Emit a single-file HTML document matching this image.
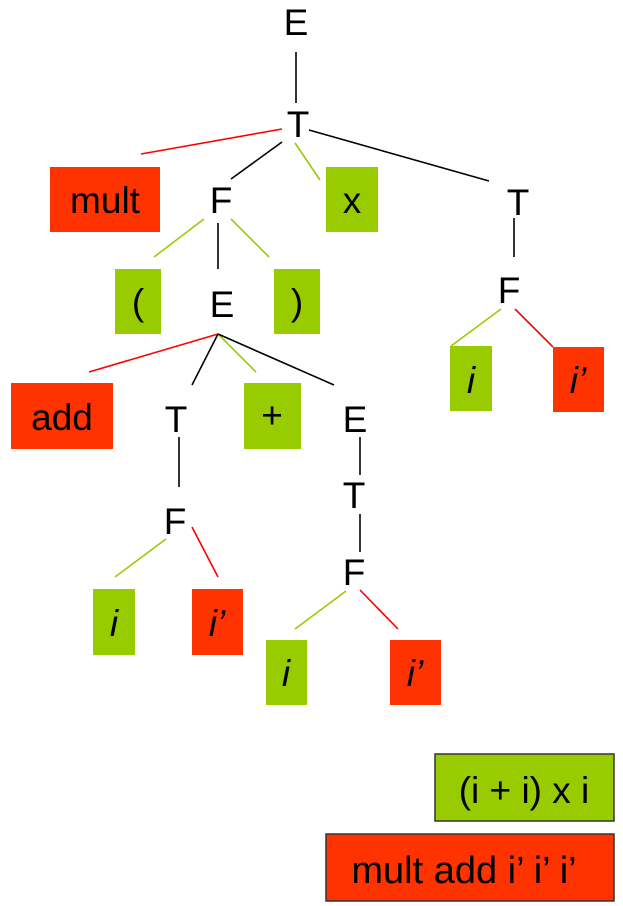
<!DOCTYPE html>
<html><head><meta charset="utf-8"><style>
html,body{margin:0;padding:0;background:#fff;}
svg{display:block;}
text{font-family:"Liberation Sans",Arial,sans-serif;fill:#000;}
</style></head><body>
<svg width="623" height="906" viewBox="0 0 623 906" xmlns="http://www.w3.org/2000/svg">
<g font-size="37" text-anchor="middle">
<!-- lines -->
<g stroke-width="1.6" fill="none">
<line x1="296" y1="52" x2="296" y2="103" stroke="#000"/>
<line x1="141" y1="154" x2="282" y2="129" stroke="#f00"/>
<line x1="282" y1="142" x2="231" y2="179" stroke="#000"/>
<line x1="295" y1="143" x2="320" y2="180" stroke="#99cc00"/>
<line x1="309" y1="130" x2="489" y2="181" stroke="#000"/>
<line x1="514" y1="218" x2="514" y2="257" stroke="#000"/>
<line x1="204" y1="219" x2="154" y2="257" stroke="#99cc00"/>
<line x1="218" y1="223" x2="218" y2="269" stroke="#000"/>
<line x1="231" y1="219" x2="269" y2="257" stroke="#99cc00"/>
<line x1="501" y1="309" x2="451" y2="346" stroke="#99cc00"/>
<line x1="515" y1="309" x2="553" y2="347" stroke="#f00"/>
<line x1="218" y1="334" x2="89" y2="372" stroke="#f00"/>
<line x1="218" y1="334" x2="192" y2="385" stroke="#000"/>
<line x1="218" y1="334" x2="256" y2="372" stroke="#99cc00"/>
<line x1="218" y1="334" x2="334" y2="385" stroke="#000"/>
<line x1="179" y1="437" x2="179" y2="487" stroke="#000"/>
<line x1="360" y1="437" x2="360" y2="475" stroke="#000"/>
<line x1="360" y1="514" x2="360" y2="552" stroke="#000"/>
<line x1="166" y1="539" x2="115" y2="577" stroke="#99cc00"/>
<line x1="192" y1="527" x2="218" y2="577" stroke="#f00"/>
<line x1="346" y1="591" x2="295" y2="629" stroke="#99cc00"/>
<line x1="360" y1="590" x2="398" y2="629" stroke="#f00"/>
</g>
<!-- boxes -->
<rect x="50" y="167" width="110" height="65" fill="#ff3300"/>
<rect x="326" y="167" width="52" height="65" fill="#99cc00"/>
<rect x="115" y="269" width="46" height="65" fill="#99cc00"/>
<rect x="274" y="269" width="46" height="65" fill="#99cc00"/>
<rect x="450" y="346" width="42" height="65" fill="#99cc00"/>
<rect x="553" y="347" width="51" height="65" fill="#ff3300"/>
<rect x="11" y="383" width="102" height="66" fill="#ff3300"/>
<rect x="244" y="383" width="57" height="66" fill="#99cc00"/>
<rect x="93" y="589" width="42" height="66" fill="#99cc00"/>
<rect x="192" y="589" width="51" height="66" fill="#ff3300"/>
<rect x="266" y="640" width="41" height="65" fill="#99cc00"/>
<rect x="390" y="640" width="51" height="65" fill="#ff3300"/>
<rect x="435" y="754" width="179" height="67" fill="#99cc00" stroke="#333" stroke-width="1.5"/>
<rect x="326" y="834" width="288" height="67" fill="#ff3300" stroke="#333" stroke-width="1.5"/>
<!-- node labels -->
<text x="296" y="35">E</text>
<text x="298" y="137">T</text>
<text x="221" y="213">F</text>
<text x="518" y="215">T</text>
<text x="509" y="303">F</text>
<text x="222" y="317">E</text>
<text x="176" y="432">T</text>
<text x="355" y="432">E</text>
<text x="354" y="508">T</text>
<text x="175" y="534">F</text>
<text x="354" y="585">F</text>
<!-- box labels -->
<text x="105" y="213">mult</text>
<text x="352" y="213">x</text>
<text x="138" y="315">(</text>
<text x="297" y="315">)</text>
<text x="62" y="430">add</text>
<text x="272" y="428">+</text>
<g font-style="italic">
<text x="471" y="393">i</text>
<text x="578" y="393">i’</text>
<text x="114" y="636">i</text>
<text x="217" y="636">i’</text>
<text x="286" y="686">i</text>
<text x="415" y="686">i’</text>
</g>
<text x="524" y="803">(i + i) x i</text>
<text x="464" y="883" font-size="38">mult add i’ i’ i’</text>
</g>
</svg>
</body></html>
